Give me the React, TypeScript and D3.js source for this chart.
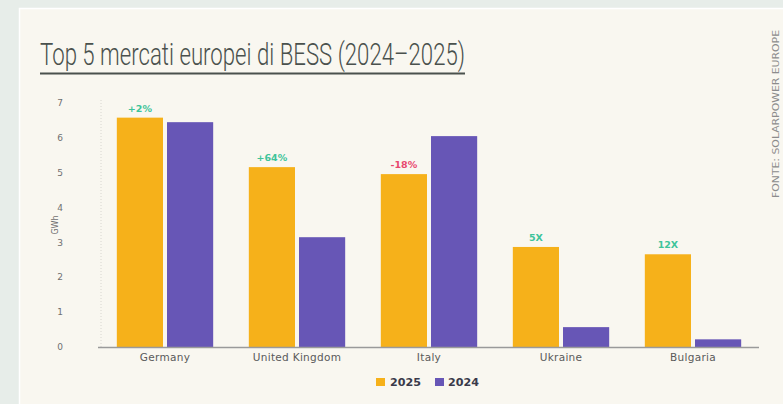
import React from "react";
import * as d3 from "d3";

const categories = ["Germany", "United Kingdom", "Italy", "Ukraine", "Bulgaria"];
const seriesKeys = ["2025", "2024"];
const values2025 = [6.58, 5.16, 4.96, 2.87, 2.66];
const values2024 = [6.45, 3.15, 6.05, 0.57, 0.22];
const changeLabels = ["+2%", "+64%", "-18%", "5X", "12X"];
const changePositive = [true, true, false, true, true];
const yTicks = [0, 1, 2, 3, 4, 5, 6, 7];

const W = 783;
const H = 404;
const COLORS: Record<string, string> = { "2025": "#f6b11a", "2024": "#6756b6" };

export default function App() {
  const x = d3.scaleBand<string>().domain(categories).range([99, 759]).paddingInner(0.27).paddingOuter(0.135);
  const xs = d3.scaleBand<string>().domain(seriesKeys).range([0, x.bandwidth()]).paddingInner(0.08);
  const y = d3.scaleLinear().domain([0, 7]).range([347, 103]);
  const data = categories.map((c, i) => ({ c, "2025": values2025[i], "2024": values2024[i], label: changeLabels[i], pos: changePositive[i] }));

  return (
    <svg width={W} height={H} style={{ position: "absolute", left: 0, top: 0 }} xmlns="http://www.w3.org/2000/svg">
      <rect x={0} y={0} width={W} height={H} fill="#e7ede9" />
      <rect x={19.5} y={8.5} width={W} height={H} fill="#f9f7f0" stroke="#ffffff" strokeWidth={1.5} />
      {/* title */}
      <text x={40} y={65} fontFamily="Roboto, sans-serif" fontWeight={300} fontSize={32} fill="#4a514d" textLength={425} lengthAdjust="spacingAndGlyphs">
        Top 5 mercati europei di BESS (2024–2025)
      </text>
      <line x1={40} x2={465} y1={73.5} y2={73.5} stroke="#4a514d" strokeWidth={2} />
      {/* source */}
      <text transform="translate(779,198) rotate(-90)" fontFamily="'DejaVu Sans', sans-serif" fontSize={9.5} fill="#8c8c8c" textLength={168} lengthAdjust="spacingAndGlyphs">
        FONTE: SOLARPOWER EUROPE
      </text>
      {/* y axis dotted line */}
      <line x1={101} x2={101} y1={100} y2={347} stroke="#d8d6d0" strokeWidth={1} strokeDasharray="1,2" />
      {yTicks.map((t) => (
        <text key={t} x={60} y={y(t)} dy="0.35em" textAnchor="middle" fontFamily="'DejaVu Sans', sans-serif" fontSize={9} fill="#707070">
          {t}
        </text>
      ))}
      <text transform={`translate(58,${(y(0) + y(7)) / 2}) rotate(-90)`} textAnchor="middle" fontFamily="'DejaVu Sans', sans-serif" fontSize={8} fill="#707070">
        GWh
      </text>
      {/* bars */}
      {data.map((d) => (
        <g key={d.c} transform={`translate(${x(d.c)},0)`}>
          {seriesKeys.map((k) => (
            <rect key={k} x={xs(k)} y={y((d as any)[k])} width={xs.bandwidth()} height={y(0) - y((d as any)[k])} fill={COLORS[k]} />
          ))}
          <text x={(xs("2025") || 0) + xs.bandwidth() / 2} y={y(d["2025"]) - 6} textAnchor="middle" fontFamily="'DejaVu Sans', sans-serif" fontWeight="bold" fontSize={9.5} fill={d.pos ? "#3ec49a" : "#e8486e"}>
            {d.label}
          </text>
          <text x={x.bandwidth() / 2} y={361} textAnchor="middle" fontFamily="'DejaVu Sans', sans-serif" fontSize={10.5} letterSpacing={0.3} fill="#5a5a5a">
            {d.c}
          </text>
        </g>
      ))}
      <line x1={98} x2={759} y1={347.5} y2={347.5} stroke="#9a9a9a" strokeWidth={1.5} />
      {/* legend */}
      <rect x={376} y={378} width={9} height={8} fill={COLORS["2025"]} />
      <text x={390} y={382} dy="0.35em" fontFamily="'DejaVu Sans', sans-serif" fontWeight="bold" fontSize={10.5} fill="#3a3a4a" textLength={31} lengthAdjust="spacingAndGlyphs">2025</text>
      <rect x={435} y={378} width={9} height={8} fill={COLORS["2024"]} />
      <text x={448} y={382} dy="0.35em" fontFamily="'DejaVu Sans', sans-serif" fontWeight="bold" fontSize={10.5} fill="#3a3a4a" textLength={31} lengthAdjust="spacingAndGlyphs">2024</text>
    </svg>
  );
}
